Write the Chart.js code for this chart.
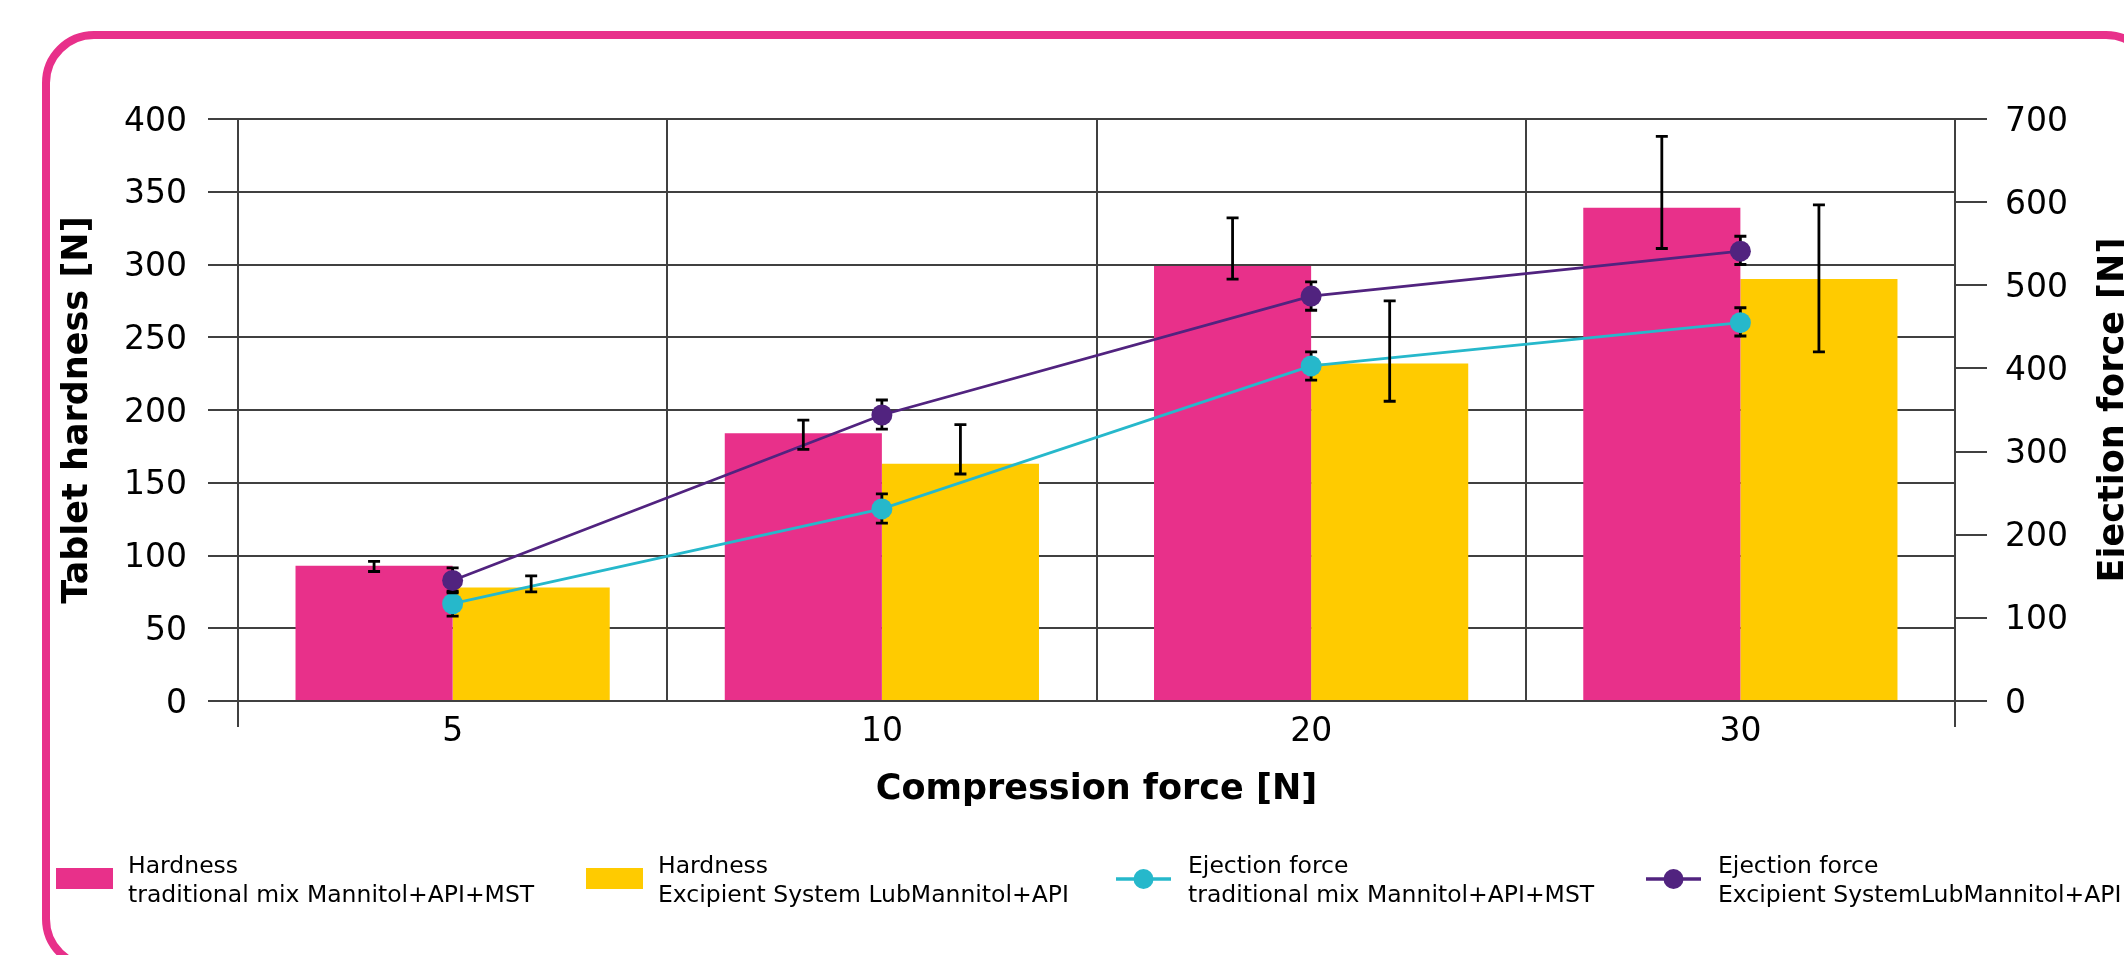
<!DOCTYPE html>
<html>
<head>
<meta charset="utf-8">
<title>Tablet hardness and ejection force vs compression force</title>
<script src="https://cdn.jsdelivr.net/npm/chart.js@4.4.1/dist/chart.umd.min.js"></script>
<style>
  html, body { margin: 0; padding: 0; background: #fff; width: 2124px; height: 955px; overflow: hidden; }
  #frame {
    position: absolute; left: 42px; top: 31px; width: 2116px; height: 940px;
    border: 8px solid #E8308A; border-radius: 52px; box-sizing: border-box;
  }
  #wrap { position: absolute; left: 0; top: 0; width: 2124px; height: 955px; }
</style>
</head>
<body>
<div id="frame"></div>
<div id="wrap"><canvas id="chart" width="2124" height="955"></canvas></div>
<script>
// Compression force categories [N]
const categories = ['5', '10', '20', '30'];

// Tablet hardness [N] (left axis), with lower / upper error limits
const hardnessTrad     = [93, 184, 299, 339];
const hardnessTradLow  = [89, 173, 290, 311];
const hardnessTradHigh = [96, 193, 332, 388];

const hardnessLub      = [78, 163, 232, 290];
const hardnessLubLow   = [75, 156, 206, 240];
const hardnessLubHigh  = [86, 190, 275, 341];

// Ejection force [N] (right axis), with lower / upper error limits
const ejectionTrad     = [117, 231, 403, 455];
const ejectionTradLow  = [102, 214, 386, 439];
const ejectionTradHigh = [132, 249, 420, 473];

const ejectionLub      = [145, 344, 487, 541];
const ejectionLubLow   = [130, 327, 470, 525];
const ejectionLubHigh  = [160, 362, 504, 559];

// Axis ranges
const hardnessAxis = { min: 0, max: 400, step: 50 };
const ejectionAxis = { min: 0, max: 700, step: 100 };

// Two-line legend names
const nameHardTrad = ['Hardness', 'traditional mix Mannitol+API+MST'];
const nameHardLub  = ['Hardness', 'Excipient System LubMannitol+API'];
const nameEjTrad   = ['Ejection force', 'traditional mix Mannitol+API+MST'];
const nameEjLub    = ['Ejection force', 'Excipient SystemLubMannitol+API'];

const titleLeft   = 'Tablet hardness [N]';
const titleRight  = 'Ejection force [N]';
const titleBottom = 'Compression force [N]';

const PINK = '#E8308A', YELLOW = '#FFCB00', CYAN = '#26B8CB', PURPLE = '#51237F';
const GRID = '#404040';
const FONT = '"DejaVu Sans", Verdana, sans-serif';

Chart.defaults.font.family = FONT;
Chart.defaults.color = '#000';

function drawErrorBars(chart, i) {
  const ds = chart.data.datasets[i];
  const meta = chart.getDatasetMeta(i);
  const yScale = chart.scales[meta.yAxisID];
  const ctx = chart.ctx;
  ctx.save();
  ctx.strokeStyle = '#000';
  ctx.lineWidth = 2.8;
  meta.data.forEach((el, j) => {
    const x = el.x;
    const yLo = yScale.getPixelForValue(ds.errLow[j]);
    const yHi = yScale.getPixelForValue(ds.errHigh[j]);
    ctx.beginPath();
    ctx.moveTo(x, yLo); ctx.lineTo(x, yHi);
    ctx.moveTo(x - 6, yLo); ctx.lineTo(x + 6, yLo);
    ctx.moveTo(x - 6, yHi); ctx.lineTo(x + 6, yHi);
    ctx.stroke();
  });
  ctx.restore();
}

const errorBarPlugin = {
  id: 'errorBars',
  beforeDatasetDraw(chart, args) {
    if (chart.data.datasets[args.index].type === 'line') drawErrorBars(chart, args.index);
  },
  afterDatasetsDraw(chart) {
    chart.data.datasets.forEach((ds, i) => { if (ds.type === 'bar') drawErrorBars(chart, i); });
  }
};

const legendPlugin = {
  id: 'twoLineLegend',
  afterDraw(chart) {
    const ctx = chart.ctx;
    ctx.save();
    ctx.font = '23.5px ' + FONT;
    ctx.textAlign = 'left';
    ctx.textBaseline = 'alphabetic';
    chart.data.datasets.forEach((ds, k) => {
      const x0 = 56 + k * 530;
      const cy = 879;
      if (ds.type === 'bar') {
        ctx.fillStyle = ds.backgroundColor;
        ctx.fillRect(x0, 868, 57, 21);
      } else {
        ctx.strokeStyle = ds.borderColor;
        ctx.lineWidth = 3.5;
        ctx.beginPath(); ctx.moveTo(x0, cy); ctx.lineTo(x0 + 55, cy); ctx.stroke();
        ctx.fillStyle = ds.borderColor;
        ctx.beginPath(); ctx.arc(x0 + 27.5, cy, 10, 0, Math.PI * 2); ctx.fill();
      }
      ctx.fillStyle = '#000';
      ds.legendLines.forEach((t, n) => ctx.fillText(t, x0 + 72, 873 + 29 * n));
    });
    ctx.restore();
  }
};

const rightTitlePlugin = {
  id: 'rightTitle',
  afterDraw(chart) {
    const ctx = chart.ctx;
    const a = chart.chartArea;
    ctx.save();
    ctx.translate(2123, (a.top + a.bottom) / 2);
    ctx.rotate(-Math.PI / 2);
    ctx.font = 'bold 35px ' + FONT;
    ctx.fillStyle = '#000';
    ctx.textAlign = 'center';
    ctx.textBaseline = 'alphabetic';
    ctx.fillText(titleRight, 0, 0);
    ctx.restore();
  }
};

new Chart(document.getElementById('chart'), {
  type: 'bar',
  data: {
    labels: categories,
    datasets: [
      { type: 'bar', label: nameHardTrad.join(' '), legendLines: nameHardTrad,
        data: hardnessTrad, errLow: hardnessTradLow, errHigh: hardnessTradHigh,
        backgroundColor: PINK, yAxisID: 'y', order: 3,
        barPercentage: 1, categoryPercentage: 0.732 },
      { type: 'bar', label: nameHardLub.join(' '), legendLines: nameHardLub,
        data: hardnessLub, errLow: hardnessLubLow, errHigh: hardnessLubHigh,
        backgroundColor: YELLOW, yAxisID: 'y', order: 3,
        barPercentage: 1, categoryPercentage: 0.732 },
      { type: 'line', label: nameEjTrad.join(' '), legendLines: nameEjTrad,
        data: ejectionTrad, errLow: ejectionTradLow, errHigh: ejectionTradHigh,
        borderColor: CYAN, backgroundColor: CYAN, pointBackgroundColor: CYAN,
        borderWidth: 2.8, pointRadius: 10.5, pointBorderWidth: 0, tension: 0,
        fill: false, yAxisID: 'y1', order: 1 },
      { type: 'line', label: nameEjLub.join(' '), legendLines: nameEjLub,
        data: ejectionLub, errLow: ejectionLubLow, errHigh: ejectionLubHigh,
        borderColor: PURPLE, backgroundColor: PURPLE, pointBackgroundColor: PURPLE,
        borderWidth: 2.8, pointRadius: 10.5, pointBorderWidth: 0, tension: 0,
        fill: false, yAxisID: 'y1', order: 0 }
    ]
  },
  options: {
    responsive: false,
    maintainAspectRatio: false,
    animation: false,
    events: [],
    layout: { padding: { left: 50, top: 119, right: 20, bottom: 134 } },
    plugins: { legend: { display: false }, tooltip: { enabled: false } },
    scales: {
      x: {
        type: 'category',
        offset: true,
        grid: {
          offset: true, color: GRID, lineWidth: 2, drawTicks: true, tickLength: 26,
          tickColor: c => (c.index === undefined || c.index === 0) ? GRID : 'rgba(0,0,0,0)'
        },
        border: { display: true, color: GRID, width: 2 },
        ticks: { font: { size: 33 }, color: '#000', padding: -14, maxRotation: 0 },
        title: { display: true, text: titleBottom, font: { size: 35, weight: 'bold' },
                 color: '#000', padding: { top: 0, bottom: 10 } },
        afterFit: s => { s.height = 120; }
      },
      y: {
        position: 'left',
        min: hardnessAxis.min, max: hardnessAxis.max,
        grid: { color: GRID, lineWidth: 2, drawTicks: true, tickLength: 30 },
        border: { display: true, color: GRID, width: 2 },
        ticks: { stepSize: hardnessAxis.step, font: { size: 33 }, color: '#000',
                 padding: 21, labelOffset: 3 },
        title: { display: true, text: titleLeft, font: { size: 35, weight: 'bold' },
                 color: '#000', padding: { top: 6.6, bottom: 0 } },
        afterFit: s => { s.width = 188; }
      },
      y1: {
        position: 'right',
        min: ejectionAxis.min, max: ejectionAxis.max,
        grid: { drawOnChartArea: false, color: GRID, lineWidth: 2, drawTicks: true, tickLength: 32 },
        border: { display: true, color: GRID, width: 2 },
        ticks: { stepSize: ejectionAxis.step, font: { size: 33 }, color: '#000',
                 padding: 18, labelOffset: 3 },
        afterFit: s => { s.width = 149; }
      }
    }
  },
  plugins: [errorBarPlugin, legendPlugin, rightTitlePlugin]
});
</script>
</body>
</html>
